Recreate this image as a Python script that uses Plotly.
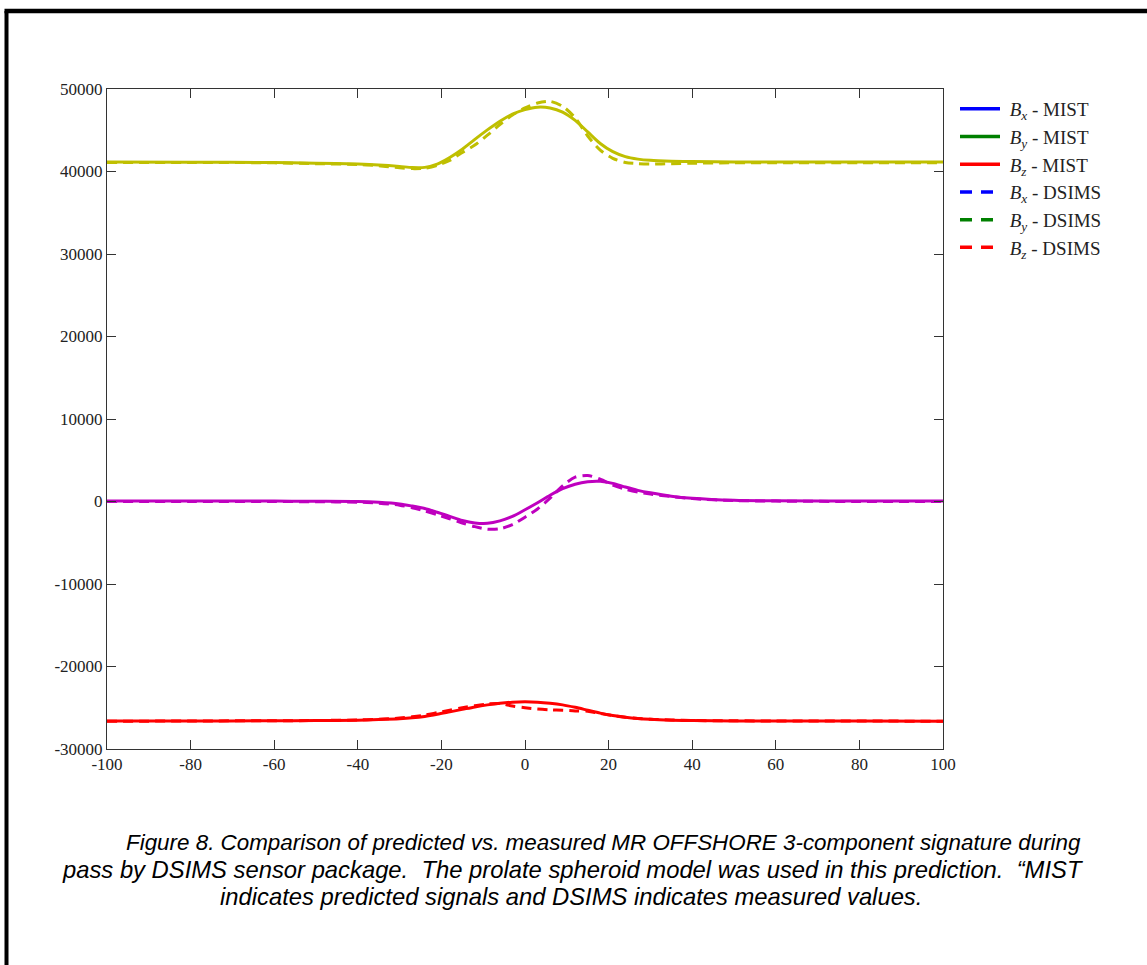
import plotly.graph_objects as go

# ---- data ----
x = [-100, -80, -60, -50, -40, -35, -30, -27, -24, -21, -18, -15, -12, -9, -6, -3,
     0, 3, 6, 9, 12, 15, 18, 21, 24, 27, 30, 35, 40, 50, 60, 80, 100]

top_mist = [41150, 41130, 41080, 41000, 40900, 40800, 40620, 40480, 40500, 40900, 41700,
            42700, 43900, 45050, 46100, 46950, 47500, 47800, 47700, 47200, 46200, 44800,
            43400, 42400, 41800, 41500, 41350, 41250, 41200, 41150, 41150, 41150, 41150]
top_dsims = [41100, 41100, 41050, 40950, 40850, 40700, 40450, 40350, 40400, 40750, 41350,
             42300, 43200, 44400, 45700, 46850, 47700, 48300, 48500, 47900, 46500, 44300,
             42600, 41600, 41100, 40950, 40900, 40950, 41000, 41050, 41050, 41050, 41050]

mid_mist = [50, 50, 50, 30, 0, -100, -300, -550, -850, -1300, -1800, -2300, -2600, -2650,
            -2350, -1800, -1000, -150, 750, 1550, 2100, 2400, 2450, 2200, 1750, 1350, 1050,
            650, 400, 150, 80, 50, 50]
mid_dsims = [0, 0, 0, -30, -80, -200, -450, -750, -1150, -1600, -2100, -2600, -3050, -3350,
             -3300, -2800, -1900, -900, 400, 1900, 2950, 3150, 2700, 2000, 1500, 1150, 900,
             600, 350, 120, 50, 0, 0]

bot_mist = [-26600, -26600, -26580, -26550, -26500, -26430, -26330, -26220, -26050, -25800,
            -25500, -25200, -24900, -24650, -24450, -24320, -24280, -24320, -24450, -24650,
            -24950, -25300, -25650, -25940, -26150, -26300, -26400, -26500, -26560, -26600,
            -26600, -26620, -26650]
bot_dsims = [-26650, -26600, -26580, -26550, -26480, -26400, -26250, -26100, -25900, -25600,
             -25300, -25000, -24750, -24550, -24480, -24800, -25000, -25150, -25250, -25300,
             -25380, -25420, -25700, -25950, -26150, -26300, -26400, -26480, -26550, -26580,
             -26600, -26600, -26650]

x_ticks = [-100, -80, -60, -40, -20, 0, 20, 40, 60, 80, 100]
x_tick_text = ["-100", "-80", "-60", "-40", "-20", "0", "20", "40", "60", "80", "100"]
y_ticks = [-30000, -20000, -10000, 0, 10000, 20000, 30000, 40000, 50000]
y_tick_text = ["-30000", "-20000", "-10000", "0", "10000", "20000", "30000", "40000", "50000"]

legend_names = ["<i>B</i><sub><i>x</i></sub> - MIST", "<i>B</i><sub><i>y</i></sub> - MIST",
                "<i>B</i><sub><i>z</i></sub> - MIST", "<i>B</i><sub><i>x</i></sub> - DSIMS",
                "<i>B</i><sub><i>y</i></sub> - DSIMS", "<i>B</i><sub><i>z</i></sub> - DSIMS"]
legend_colors = ["#0000FF", "#008000", "#FF0000", "#0000FF", "#008000", "#FF0000"]
legend_dash = ["solid", "solid", "solid", "12px,9px", "12px,9px", "12px,9px"]

caption_lines = [
    "Figure 8. Comparison of predicted vs. measured MR OFFSHORE 3-component signature during",
    "pass by DSIMS sensor package.  The prolate spheroid model was used in this prediction.  \u201cMIST",
    "indicates predicted signals and DSIMS indicates measured values.",
]

OLIVE = "#BFBF00"
MAGENTA = "#BF00BF"
RED = "#FF0000"

fig = go.Figure()

series = [
    (top_mist, OLIVE, "solid"), (mid_mist, MAGENTA, "solid"), (bot_mist, RED, "solid"),
    (top_dsims, OLIVE, "10px,6px"), (mid_dsims, MAGENTA, "10px,6px"), (bot_dsims, RED, "10px,6px"),
]
for yv, col, dash in series:
    fig.add_trace(go.Scatter(x=x, y=yv, mode="lines", showlegend=False,
                             line=dict(color=col, width=3, dash=dash, shape="spline", smoothing=0.8)))

for i, (nm, col, dash) in enumerate(zip(legend_names, legend_colors, legend_dash)):
    fig.add_trace(go.Scatter(x=[None], y=[None], mode="lines", name="\u00a0" + nm,
                             legendgroup=f"g{i}",
                             line=dict(color=col, width=3.5, dash=dash)))

L, R, T, B = 107, 204, 89, 216
W, H = 1147, 965
pw, ph = W - L - R, H - T - B

def px2x(px):
    return (px - L) / pw

def py2y(py):
    return (H - B - py) / ph

axis_common = dict(showgrid=False, zeroline=False, showline=True, linecolor="#333333",
                   linewidth=1, mirror="ticks", ticks="inside", ticklen=9, tickcolor="#333333",
                   tickfont=dict(family="Liberation Serif", size=17, color="#222222"))

fig.update_xaxes(range=[-100, 100], tickmode="array", tickvals=x_ticks, ticktext=x_tick_text,
                 **axis_common)
fig.update_yaxes(range=[-30000, 50000], tickmode="array", tickvals=y_ticks, ticktext=y_tick_text,
                 **axis_common)

caption_centers = [603, 572, 571]
caption_ys = [842, 869, 897]
caption_sizes = [22.4, 23.8, 23.8]
annotations = []
for txt, cx, cy, fs in zip(caption_lines, caption_centers, caption_ys, caption_sizes):
    annotations.append(dict(text="<i>" + txt + "</i>", x=px2x(cx), y=py2y(cy), xref="paper",
                            yref="paper", xanchor="center", yanchor="middle", showarrow=False,
                            font=dict(family="Liberation Sans", size=fs, color="#000000")))

shapes = [
    dict(type="line", xref="paper", yref="paper", x0=px2x(6.5), x1=px2x(6.5),
         y0=py2y(11), y1=py2y(1100), line=dict(color="black", width=4)),
    dict(type="line", xref="paper", yref="paper", x0=px2x(4.5), x1=px2x(1300),
         y0=py2y(11), y1=py2y(11), line=dict(color="black", width=4.5)),
]

fig.update_layout(
    width=W, height=H, margin=dict(l=L, r=R, t=T, b=B, autoexpand=False),
    plot_bgcolor="white", paper_bgcolor="white",
    legend=dict(x=px2x(955), y=py2y(90), xanchor="left", yanchor="top",
                font=dict(family="Liberation Serif", size=19, color="#222222"),
                tracegroupgap=0, itemwidth=40, bgcolor="rgba(0,0,0,0)"),
    annotations=annotations, shapes=shapes,
)

fig.write_html("out.html")
